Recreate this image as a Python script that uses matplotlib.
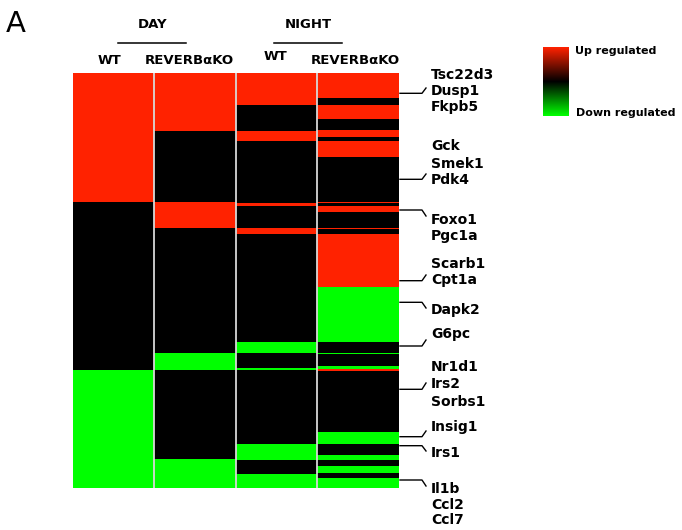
import numpy as np
import matplotlib
matplotlib.use("Agg")
import matplotlib.pyplot as plt
from matplotlib.colors import ListedColormap, LinearSegmentedColormap

# run-length coded columns: value (1 up, 0 none, -1 down) and row counts
day_wt_vals = [1, 0, -1]
day_wt_len = [129, 168, 118]

day_ko_vals = [1, 0, 1, 0, -1, 0, -1]
day_ko_len = [58, 71, 26, 125, 17, 89, 29]

night_wt_vals = [1, 0, 1, 0, 1, 0, 1, 0, -1, 0, -1, 0, -1, 0, -1]
night_wt_len = [32, 26, 10, 62, 3, 22, 6, 108, 11, 15, 2, 74, 16, 14, 14]

night_ko_vals = [1, 0, 1, 0, 1, 0, 1, 0, 1, 0, 1, 0, 1, 0, 1, -1, 0, -1, 0, -1, 1, 0, -1, 0, -1, 0, -1, 0, -1]
night_ko_len = [25, 7, 14, 11, 7, 4, 16, 45, 1, 3, 6, 16, 1, 5, 53, 55, 11, 1, 12, 3, 2, 61, 12, 11, 5, 6, 7, 5, 10]

col_labels = ["WT", "REVERBαKO", "WT", "REVERBαKO"]
groups = ["DAY", "NIGHT"]

gene_names = [["Tsc22d3", "Dusp1", "Fkpb5"], ["Gck", "Smek1", "Pdk4"], ["Foxo1", "Pgc1a"],
              ["Scarb1", "Cpt1a"], ["Dapk2"], ["G6pc"], ["Nr1d1", "Irs2", "Sorbs1"],
              ["Insig1"], ["Irs1"], ["Il1b", "Ccl2", "Ccl7"]]

RED = "#ff2200"
GREEN = "#00ff00"

cols = [np.repeat(day_wt_vals, day_wt_len), np.repeat(day_ko_vals, day_ko_len),
        np.repeat(night_wt_vals, night_wt_len), np.repeat(night_ko_vals, night_ko_len)]
mat = np.column_stack(cols)

fig = plt.figure(figsize=(6.82, 5.30), dpi=100)
W, H = 682, 530

# heatmap
ax = fig.add_axes([72.5 / W, 1 - 488 / H, 326 / W, 415 / H])
cmap = ListedColormap([GREEN, "#000000", RED])
ax.imshow(mat, cmap=cmap, vmin=-1.5, vmax=1.5, aspect="auto", interpolation="nearest",
          extent=(0, 4, mat.shape[0], 0))
for i in range(1, 4):
    ax.axvline(i, color="#d8d8d8", lw=1.3)
ax.axis("off")

# legend bar
cax = fig.add_axes([543 / W, 1 - 116 / H, 26 / W, 69 / H])
grad = np.linspace(-1, 1, 200).reshape(-1, 1)
lcmap = LinearSegmentedColormap.from_list("rg", [GREEN, "#000000", RED])
cax.imshow(grad, cmap=lcmap, aspect="auto", origin="lower")
cax.axis("off")

# overlay in pixel coordinates for text and connectors
ov = fig.add_axes([0, 0, 1, 1])
ov.set_xlim(0, W)
ov.set_ylim(H, 0)
ov.axis("off")

bold = dict(fontfamily="DejaVu Sans", fontweight="bold", fontsize=9.5)

ov.text(6, 24, "A", fontsize=21, fontfamily="DejaVu Sans", va="center", ha="left")
ov.text(153, 24, groups[0], ha="center", va="center", **bold)
ov.text(308, 25, groups[1], ha="center", va="center", **bold)
ov.plot([118, 186], [43.3, 43.3], color="black", lw=1.1)
ov.plot([274, 342], [43.3, 43.3], color="black", lw=1.1)
for x, y, lab in zip([109.5, 189.5, 275, 355.5], [60, 60, 57, 60], col_labels):
    ov.text(x, y, lab, ha="center", va="center", **bold)

ov.text(575, 50.5, "Up regulated", ha="left", va="center", fontfamily="DejaVu Sans",
        fontweight="bold", fontsize=8)
ov.text(576, 113.5, "Down regulated", ha="left", va="center", fontfamily="DejaVu Sans",
        fontweight="bold", fontsize=8)

# gene labels: text y centres and connector (line y, tip y)
text_y = [[75, 91, 106.7], [146, 164, 180], [220, 235.7], [264, 280], [310], [334],
          [366.7, 384.3, 401.7], [426.7], [453.3], [489, 505, 520]]
conn = [(93.3, 88), (179.3, 174), (210, 216), (280.7, 275), (302.3, 308), (346, 340),
        (389.3, 383), (436.7, 431), (445.7, 451), (480, 486)]
for names, ys, (ly, ty) in zip(gene_names, text_y, conn):
    for nm, y in zip(names, ys):
        ov.text(431, y, nm, ha="left", va="center", fontfamily="DejaVu Sans",
                fontweight="bold", fontsize=10)
    ov.plot([400, 422, 426], [ly, ly, ty], color="black", lw=1)

fig.savefig("out.png", dpi=100)
